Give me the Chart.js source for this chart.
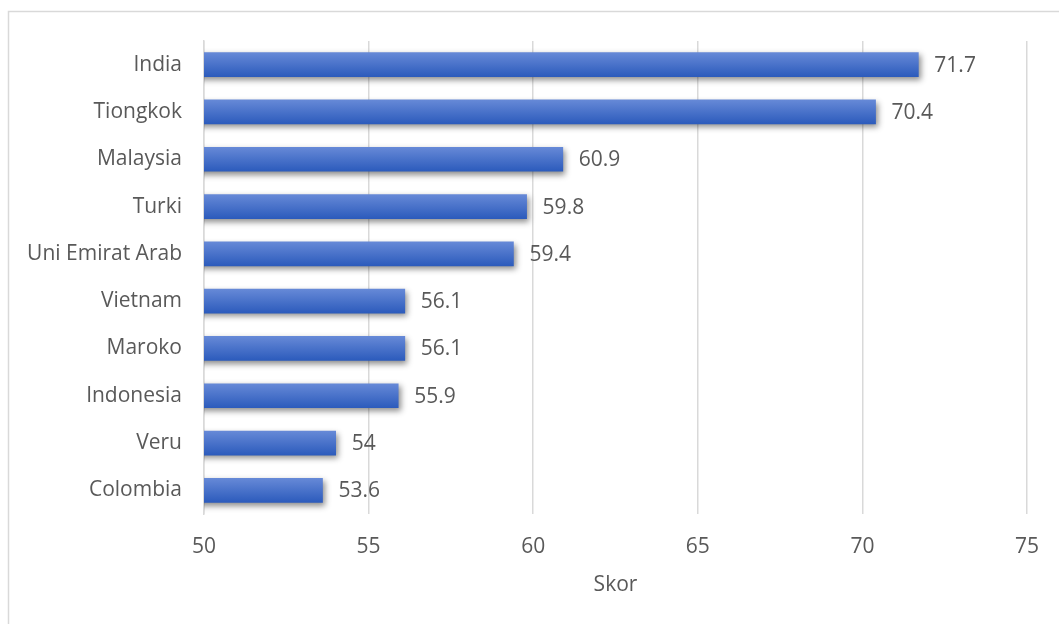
<!DOCTYPE html>
<html><head><meta charset="utf-8">
<script src="https://cdn.jsdelivr.net/npm/chart.js@4/dist/chart.umd.min.js"></script>
<style>html,body{margin:0;padding:0;background:#fff;}#wrap{width:1059px;height:624px;position:relative;}</style>
</head><body><div id="wrap"><canvas id="c" width="1059" height="624"></canvas></div>
<script>
const categories = ["India","Tiongkok","Malaysia","Turki","Uni Emirat Arab","Vietnam","Maroko","Indonesia","Veru","Colombia"];
const scores = [71.7,70.4,60.9,59.8,59.4,56.1,56.1,55.9,54,53.6];
const valueLabels = ["71.7","70.4","60.9","59.8","59.4","56.1","56.1","55.9","54","53.6"];
const xTitle = "Skor";
const xMin = 50, xMax = 75, xStep = 5;

const FONT = "'Open Sans', sans-serif";
const TXT = "#595959";
const FS = 21;

const frame = {
  id:'frame',
  beforeDraw(chart){
    const ctx = chart.ctx;
    ctx.save();
    ctx.strokeStyle = '#d9d9d9'; ctx.lineWidth = 1.5;
    ctx.strokeRect(8.5, 11.5, 1100, 700);
    ctx.restore();
  }
};
const shadow = {
  id:'shadow',
  beforeDatasetsDraw(chart){
    const ctx = chart.ctx; ctx.save();
    ctx.shadowColor='rgba(0,0,0,0.45)'; ctx.shadowBlur=6; ctx.shadowOffsetX=2; ctx.shadowOffsetY=3;
  },
  afterDatasetsDraw(chart){
    chart.ctx.restore();
    const ctx = chart.ctx;
    const meta = chart.getDatasetMeta(0);
    ctx.save();
    ctx.font = FS + "px " + FONT; ctx.fillStyle = TXT; ctx.textAlign='left'; ctx.textBaseline='middle';
    meta.data.forEach((b,i)=>{ ctx.fillText(valueLabels[i], b.x + 16, b.y + 1); });
    ctx.restore();
  }
};

new Chart(document.getElementById('c'), {
  type:'bar',
  data:{ labels:categories, datasets:[{
    data:scores,
    barThickness:24,
    backgroundColor:(c)=>{
      const ch = c.chart; const ys = ch.scales && ch.scales.y;
      if(!ys || c.dataIndex===undefined) return '#3d68c6';
      const cy = ys.getPixelForValue(c.dataIndex);
      if(!isFinite(cy)) return '#3d68c6';
      const g = ch.ctx.createLinearGradient(0, cy - 12, 0, cy + 12);
      g.addColorStop(0,'#6689d7'); g.addColorStop(1,'#2c5bbc');
      return g;
    },
    borderWidth:0
  }]},
  options:{
    indexAxis:'y', responsive:false, animation:false,
    layout:{padding:{top:41,right:32,left:0,bottom:26}},
    plugins:{legend:{display:false}, tooltip:{enabled:false}},
    scales:{
      x:{ min:xMin, max:xMax,
        ticks:{stepSize:xStep, color:TXT, font:{family:FONT,size:FS}, padding:20},
        grid:{color:'#d9d9d9', lineWidth:1.5, drawTicks:false},
        border:{display:false},
        title:{display:true, text:xTitle, color:TXT, font:{family:FONT,size:FS}, padding:{top:0,bottom:0}},
        afterFit:(s)=>{ s.height = 84; }
      },
      y:{
        ticks:{color:TXT, font:{family:FONT,size:FS}, padding:22},
        grid:{display:false, drawTicks:false},
        border:{display:true, color:'#d9d9d9', width:1.5},
        afterFit:(s)=>{ s.width = 204; }
      }
    }
  },
  plugins:[frame, shadow]
});
</script></body></html>
